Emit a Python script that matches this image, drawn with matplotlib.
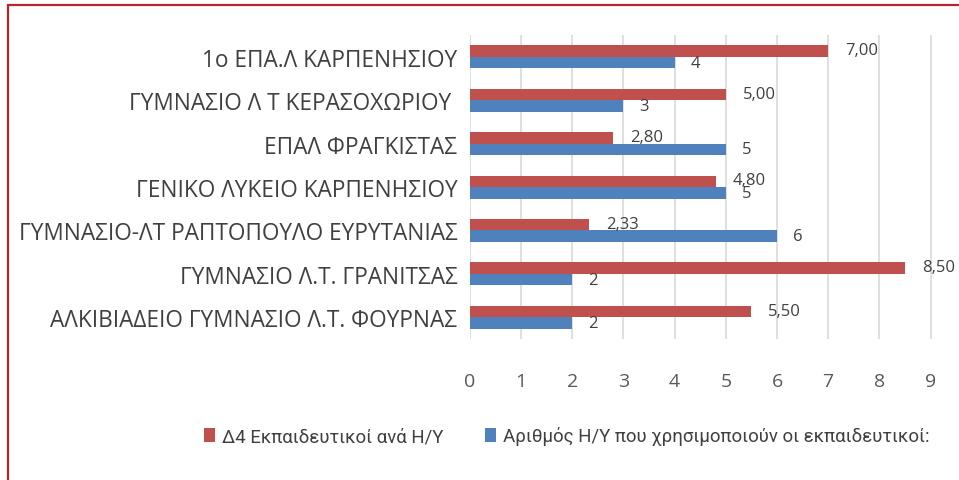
import numpy as np
import matplotlib.pyplot as plt
from matplotlib.patches import Rectangle

schools = ["1ο ΕΠΑ.Λ ΚΑΡΠΕΝΗΣΙΟΥ",
           "ΓΥΜΝΑΣΙΟ Λ Τ ΚΕΡΑΣΟΧΩΡΙΟΥ ",
           "ΕΠΑΛ ΦΡΑΓΚΙΣΤΑΣ",
           "ΓΕΝΙΚΟ ΛΥΚΕΙΟ ΚΑΡΠΕΝΗΣΙΟΥ",
           "ΓΥΜΝΑΣΙΟ-ΛΤ ΡΑΠΤΟΠΟΥΛΟ ΕΥΡΥΤΑΝΙΑΣ",
           "ΓΥΜΝΑΣΙΟ Λ.Τ. ΓΡΑΝΙΤΣΑΣ",
           "ΑΛΚΙΒΙΑΔΕΙΟ ΓΥΜΝΑΣΙΟ Λ.Τ. ΦΟΥΡΝΑΣ"]
teachers_per_pc = [7.00, 5.00, 2.80, 4.80, 2.33, 8.50, 5.50]
pcs_used = [4, 3, 5, 5, 6, 2, 2]
series_names = ["Δ4 Εκπαιδευτικοί ανά Η/Υ",
                "Αριθμός Η/Υ που χρησιμοποιούν οι εκπαιδευτικοί:"]
xticks = list(range(0, 10))

RED = "#C0504D"
BLUE = "#4F81BD"
FONT = ["Open Sans", "DejaVu Sans"]
NARROW = ["Roboto", "DejaVu Sans"]

fig = plt.figure(figsize=(9.59, 4.81), dpi=100)
ax = fig.add_axes([0.490, 0.293, 0.483, 0.632])

n = len(schools)
y = np.arange(n)[::-1]
h = 0.265
ax.barh(y + h / 2, teachers_per_pc, height=h, color=RED, label=series_names[0], zorder=3)
ax.barh(y - h / 2, pcs_used, height=h, color=BLUE, label=series_names[1], zorder=3)

for yi, v in zip(y, teachers_per_pc):
    ax.text(v + 0.33, yi + h / 2 + 0.02, f"{v:.2f}".replace(".", ","), va="center", ha="left",
            fontsize=12, color="#404040", family=FONT, zorder=4)
for yi, v in zip(y, pcs_used):
    ax.text(v + 0.31, yi - h / 2, str(v), va="center", ha="left",
            fontsize=12, color="#404040", family=FONT, zorder=4)

ax.set_xlim(0, 9.05)
ax.set_ylim(-0.5, n - 0.5)
ax.set_xticks(xticks)
ax.set_xticklabels([str(t) for t in xticks], family=FONT, fontsize=14, color="#595959")
ax.set_yticks(y)
ax.set_yticklabels(schools, family=FONT, fontsize=16.3, color="#404040")
ax.tick_params(axis="both", length=0)
ax.tick_params(axis="x", pad=24)
ax.tick_params(axis="y", pad=9)
ax.grid(axis="x", color="#D9D9D9", linewidth=1.2, zorder=0)
for s in ax.spines.values():
    s.set_visible(False)

leg = fig.legend(loc="center", bbox_to_anchor=(0.591, 0.0915), ncol=2, frameon=False,
                 prop={"family": NARROW, "size": 13.4}, handlelength=0.6, handleheight=0.8,
                 handletextpad=0.4, columnspacing=2.2)
for t in leg.get_texts():
    t.set_color("#404040")

# chart border (only top and left visible in the crop)
fig.patches.append(Rectangle((8 / 959, -0.05), 1.1, 1 - 6 / 481 + 0.05, transform=fig.transFigure,
                             fill=False, edgecolor="#B8262B", linewidth=1.6))

fig.savefig("out.png", dpi=100)
